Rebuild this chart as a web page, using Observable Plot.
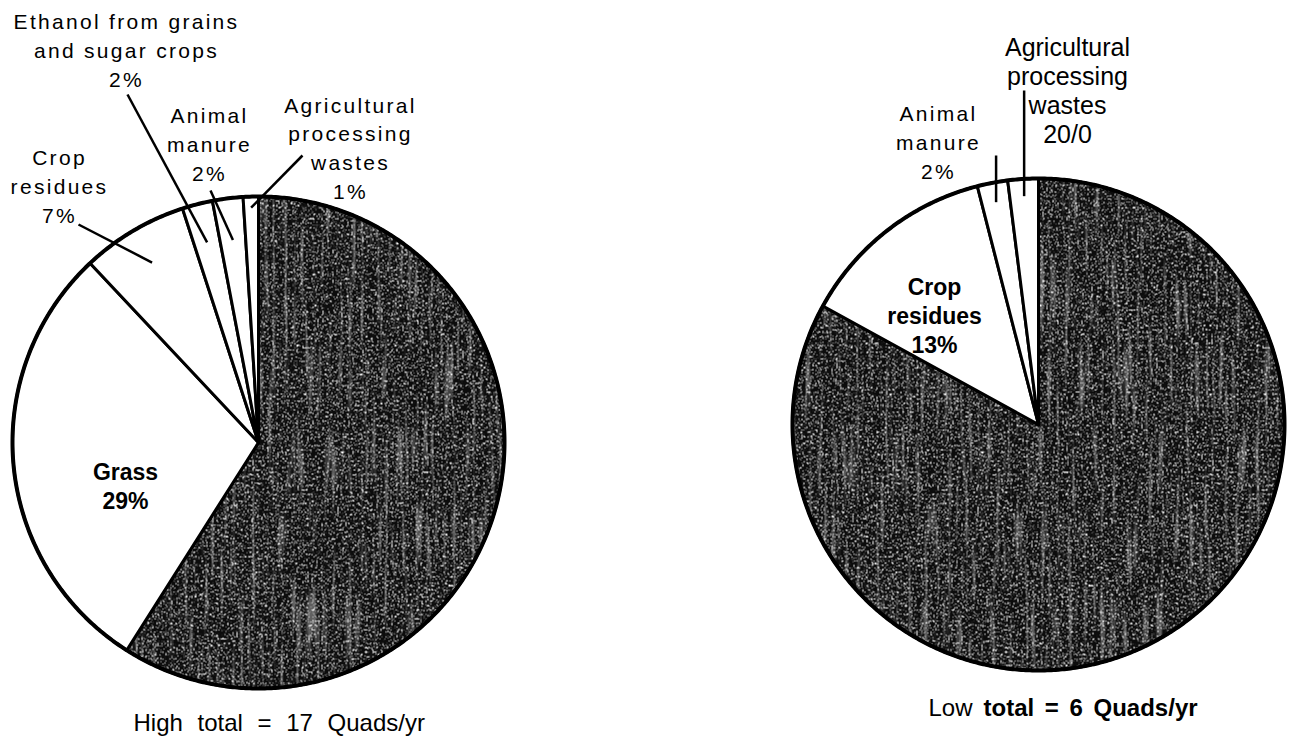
<!DOCTYPE html>
<html>
<head>
<meta charset="utf-8">
<script src="https://cdn.jsdelivr.net/npm/d3@7"></script>
<script src="https://cdn.jsdelivr.net/npm/@observablehq/plot@0.6"></script>
<style>
  html, body { margin: 0; padding: 0; background: #fff; }
  #chart svg { display: block; }
  .pies g[aria-description="tracked"] text { letter-spacing: 2.3px; }
  .pies g[aria-description="caption"] text { word-spacing: 8px; }
  .pies g[aria-description="caption-bold"] text { word-spacing: 4px; }
</style>
</head>
<body>
<svg width="0" height="0" style="position:absolute;left:0;top:0" aria-hidden="true">
  <defs>
    <filter id="speckle" filterUnits="userSpaceOnUse" x="0" y="0" width="1295" height="739" color-interpolation-filters="sRGB">
      <feTurbulence type="fractalNoise" baseFrequency="0.8 0.45" numOctaves="2" seed="11" result="n"/>
      <feColorMatrix in="n" type="matrix" values="0 0 0 0 1  0 0 0 0 1  0 0 0 0 1  8 0 0 0 -4.55"/>
    </filter>
    <filter id="streaks" filterUnits="userSpaceOnUse" x="0" y="0" width="1295" height="739" color-interpolation-filters="sRGB">
      <feTurbulence type="fractalNoise" baseFrequency="0.25 0.012" numOctaves="2" seed="4" result="n"/>
      <feColorMatrix in="n" type="matrix" values="0 0 0 0 1  0 0 0 0 1  0 0 0 0 1  5 0 0 0 -2.75"/>
    </filter>
    <pattern id="grain" patternUnits="userSpaceOnUse" x="0" y="0" width="1295" height="739">
      <rect width="1295" height="739" fill="#0c0c0c"/>
      <rect width="1295" height="739" fill="#ffffff" opacity="0.35" filter="url(#streaks)"/>
      <rect width="1295" height="739" fill="#ffffff" filter="url(#speckle)"/>
    </pattern>
  </defs>
</svg>
<div id="chart"></div>
<script>
// ---------------- DATA ----------------
// High estimate (total = 17 Quads/yr); first slice is the large dark, unlabelled one
const highCategories = ["Unlabelled (dark)", "Grass", "Crop residues", "Ethanol from grains and sugar crops", "Animal manure", "Agricultural processing wastes"];
const highValues = [59, 29, 7, 2, 2, 1];
const highLabelText = ["", "Grass", "Crop\nresidues", "Ethanol from grains\nand sugar crops", "Animal\nmanure", "Agricultural\nprocessing\nwastes"];
const highPctLabels = ["", "29%", "7%", "2%", "2%", "1%"];

// Low estimate (total = 6 Quads/yr)
const lowCategories = ["Unlabelled (dark)", "Crop residues", "Animal manure", "Agricultural processing wastes"];
const lowValues = [83, 13, 2, 2];
const lowLabelText = ["", "Crop\nresidues", "Animal\nmanure", "Agricultural\nprocessing\nwastes"];
const lowPctLabels = ["", "13%", "2%", "20/0"];

const totals = [17, 6];
const totalUnit = "Quads/yr";

// ---------------- LAYOUT (positions & styles only) ----------------
const W = 1295, H = 739;
const font = "'Liberation Sans', Arial, Helvetica, sans-serif";
const pieLayout = {
  high: {cx: 258, cy: 442, r: 246},
  low:  {cx: 1038, cy: 424, r: 246}
};
// label anchors: x = centre, y = baseline of last line
const labelLayout = {
  high: {
    "Grass": {x: 125, y: 508, style: "bold"},
    "Crop residues": {x: 59, y: 222, style: "tracked", from: [78, 224], frac: 0.85},
    "Ethanol from grains and sugar crops": {x: 126, y: 86, style: "tracked", from: [127, 94], frac: 0.84},
    "Animal manure": {x: 209, y: 180, style: "tracked", from: [210, 190], frac: 0.83},
    "Agricultural processing wastes": {x: 350, y: 198, style: "tracked", from: [302, 155], frac: 0.955}
  },
  low: {
    "Crop residues": {x: 934, y: 352, style: "bold"},
    "Animal manure": {x: 938, y: 178, style: "tracked", fromY: 155, frac: 0.92},
    "Agricultural processing wastes": {x: 1067, y: 142, style: "plain", fromY: 90, frac: 0.93}
  }
};
const captionLayout = {
  high: {x: 133, y: 730},
  low: {x: 928, xBold: 983, y: 715}
};

// ---------------- GEOMETRY FROM DATA ----------------
function polar(p, deg, frac) {
  const a = deg * Math.PI / 180;
  return [p.cx + p.r * frac * Math.sin(a), p.cy - p.r * frac * Math.cos(a)];
}
function buildPie(key, cats, vals, texts, pcts) {
  const p = pieLayout[key];
  const total = d3.sum(vals);
  const ends = Array.from(d3.cumsum(vals), v => v / total * 360);
  const slices = cats.map((c, i) => ({
    key, cat: c, i, a0: i ? ends[i - 1] : 0, a1: ends[i],
    text: texts[i], pct: pcts[i]
  }));
  const polys = [];
  for (const s of slices) {
    const id = key + "-" + s.i;
    const dark = s.i === 0;
    const [x0, y0] = [p.cx, p.cy];
    polys.push({id, dark, x: x0, y: y0});
    const n = Math.max(2, Math.ceil((s.a1 - s.a0) / 0.5));
    for (let k = 0; k <= n; k++) {
      const [x, y] = polar(p, s.a0 + (s.a1 - s.a0) * k / n, 1);
      polys.push({id, dark, x, y});
    }
    polys.push({id, dark, x: x0, y: y0});
  }
  const circle = d3.range(0, 361, 0.5).map(a => { const [x, y] = polar(p, a, 1); return {id: key, x, y}; });
  const labels = [], leaders = [];
  for (const s of slices) {
    const L = labelLayout[key][s.cat];
    if (!L) continue;
    labels.push({x: L.x, y: L.y, style: L.style, text: s.text + "\n" + s.pct});
    if (L.frac) {
      const [x2, y2] = polar(p, (s.a0 + s.a1) / 2, L.frac);
      const [x1, y1] = L.from ? L.from : [x2, L.fromY];
      leaders.push({x1, y1, x2, y2});
    }
  }
  return {polys, circle, labels, leaders};
}
const high = buildPie("high", highCategories, highValues, highLabelText, highPctLabels);
const low = buildPie("low", lowCategories, lowValues, lowLabelText, lowPctLabels);
const polys = high.polys.concat(low.polys);
const circles = high.circle.concat(low.circle);
const labels = high.labels.concat(low.labels);
const leaders = high.leaders.concat(low.leaders);

const captions = [
  {x: captionLayout.high.x, y: captionLayout.high.y, text: `High total = ${totals[0]} ${totalUnit}`}
];
const capLow = [{x: captionLayout.low.x, y: captionLayout.low.y, text: "Low"}];
const capLowBold = [{x: captionLayout.low.xBold, y: captionLayout.low.y, text: `total = ${totals[1]} ${totalUnit}`}];

const plot = Plot.plot({
  width: W, height: H, margin: 0,
  className: "pies",
  style: {background: "#fff", color: "#000", fontFamily: font},
  x: {domain: [0, W], range: [0, W], axis: null},
  y: {domain: [0, H], range: [0, H], axis: null},
  marks: [
    Plot.line(polys.filter(d => d.dark), {x: "x", y: "y", z: "id", fill: "url(#grain)", stroke: "#000", strokeWidth: 3, strokeLinejoin: "round", curve: "linear"}),
    Plot.line(polys.filter(d => !d.dark), {x: "x", y: "y", z: "id", fill: "#fff", stroke: "#000", strokeWidth: 3, strokeLinejoin: "round", curve: "linear"}),
    Plot.line(circles, {x: "x", y: "y", z: "id", stroke: "#000", strokeWidth: 4, curve: "linear"}),
    Plot.link(leaders, {x1: "x1", y1: "y1", x2: "x2", y2: "y2", stroke: "#000", strokeWidth: 2.5}),
    Plot.text(labels.filter(d => d.style === "tracked"), {x: "x", y: "y", text: "text", textAnchor: "middle", lineAnchor: "bottom", fontSize: 21, lineHeight: 1.36, fontFamily: font, ariaDescription: "tracked"}),
    Plot.text(labels.filter(d => d.style === "plain"), {x: "x", y: "y", text: "text", textAnchor: "middle", lineAnchor: "bottom", fontSize: 25, lineHeight: 1.16, fontFamily: font}),
    Plot.text(labels.filter(d => d.style === "bold"), {x: "x", y: "y", text: "text", textAnchor: "middle", lineAnchor: "bottom", fontSize: 23, fontWeight: "bold", lineHeight: 1.25, fontFamily: font}),
    Plot.text(captions, {x: "x", y: "y", text: "text", textAnchor: "start", lineAnchor: "bottom", fontSize: 24, fontFamily: font, ariaDescription: "caption"}),
    Plot.text(capLow, {x: "x", y: "y", text: "text", textAnchor: "start", lineAnchor: "bottom", fontSize: 24, fontFamily: font}),
    Plot.text(capLowBold, {x: "x", y: "y", text: "text", textAnchor: "start", lineAnchor: "bottom", fontSize: 24, fontWeight: "bold", fontFamily: font, ariaDescription: "caption-bold"})
  ]
});
document.getElementById("chart").appendChild(plot);
</script>
</body>
</html>
